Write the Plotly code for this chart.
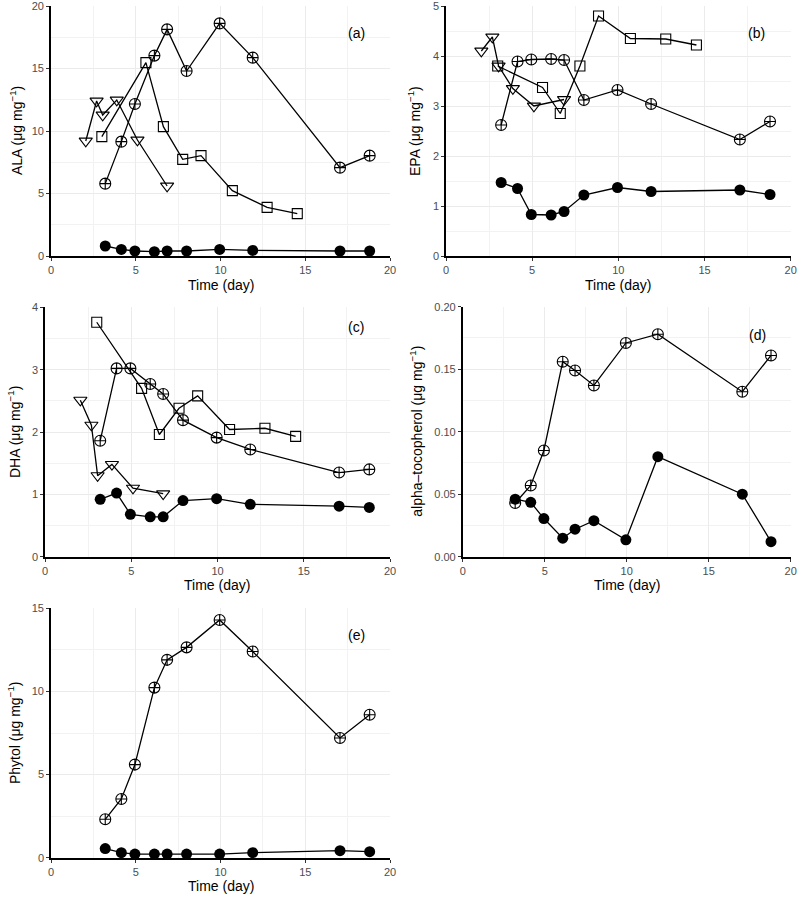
import plotly.graph_objects as go

# ---- data ----
t_circ = [3.2, 4.15, 4.95, 6.1, 6.85, 8.0, 9.95, 11.9, 17.05, 18.8]
t_sq = [3.0, 5.6, 6.63, 7.77, 8.85, 10.7, 12.75, 14.53]
t_tri = [2.05, 2.69, 3.05, 3.88, 5.1, 6.85]

ala_filled = [0.8, 0.53, 0.4, 0.35, 0.4, 0.4, 0.53, 0.45, 0.4, 0.4]
ala_cplus = [5.79, 9.15, 12.16, 16.03, 18.13, 14.8, 18.61, 15.87, 7.07, 8.03]
ala_sq = [9.55, 15.47, 10.35, 7.73, 8.03, 5.23, 3.89, 3.39]
ala_tri = [9.2, 12.4, 11.28, 12.48, 9.28, 5.6]

epa_filled = [1.47, 1.35, 0.83, 0.82, 0.89, 1.22, 1.37, 1.29, 1.32, 1.23]
epa_cplus = [2.62, 3.89, 3.93, 3.94, 3.92, 3.12, 3.32, 3.04, 2.33, 2.69]
epa_sq = [3.8, 3.37, 2.85, 3.8, 4.8, 4.35, 4.34, 4.22]
epa_tri = [4.1, 4.38, 3.8, 3.35, 3.0, 3.13]

dha_filled = [0.92, 1.02, 0.68, 0.64, 0.64, 0.9, 0.93, 0.84, 0.81, 0.79]
dha_cplus = [1.86, 3.02, 3.02, 2.77, 2.61, 2.19, 1.91, 1.72, 1.35, 1.4]
dha_sq = [3.76, 2.7, 1.96, 2.38, 2.58, 2.04, 2.06, 1.93]
dha_tri = [2.51, 2.11, 1.3, 1.48, 1.1, 1.01]

toco_filled = [0.046, 0.0435, 0.0305, 0.0148, 0.022, 0.0288, 0.0135, 0.08, 0.05, 0.012]
toco_cplus = [0.043, 0.057, 0.085, 0.156, 0.149, 0.137, 0.171, 0.178, 0.132, 0.161]

phy_filled = [0.55, 0.3, 0.22, 0.22, 0.22, 0.22, 0.22, 0.3, 0.42, 0.36]
phy_cplus = [2.31, 3.53, 5.6, 10.23, 11.9, 12.65, 14.3, 12.4, 7.2, 8.6]

panel_labels = ["(a)", "(b)", "(c)", "(d)", "(e)"]
y_titles = ["ALA", "EPA", "DHA", "alpha\u2013tocopherol", "Phytol"]
y_max = [20, 5, 4, 0.2, 15]
y_dtick = [5, 1, 1, 0.05, 5]

# ---- layout geometry (page pixels) ----
W, H = 800, 898
# (x0, x1, ytop, ybottom)
boxes = [
    (51, 390, 6, 256),
    (446, 790.7, 6, 256),
    (45, 390, 307.3, 556.7),
    (462.7, 790.7, 306.7, 556.7),
    (51, 390, 608.3, 857.7),
]
ytitle_x = [16, 414, 14, 416, 14]
xtitle_y = [285, 285, 585, 585, 886]

series = [
    [(t_circ, ala_filled, "f"), (t_circ, ala_cplus, "c"), (t_sq, ala_sq, "s"), (t_tri, ala_tri, "t")],
    [(t_circ, epa_filled, "f"), (t_circ, epa_cplus, "c"), (t_sq, epa_sq, "s"), (t_tri, epa_tri, "t")],
    [(t_circ, dha_filled, "f"), (t_circ, dha_cplus, "c"), (t_sq, dha_sq, "s"), (t_tri, dha_tri, "t")],
    [(t_circ, toco_filled, "f"), (t_circ, toco_cplus, "c")],
    [(t_circ, phy_filled, "f"), (t_circ, phy_cplus, "c")],
]

marker_style = {
    "f": dict(symbol="circle", size=11, color="black", line=dict(width=0)),
    "c": dict(symbol="circle-cross-open", size=11, color="black", line=dict(width=1.1, color="black")),
    "s": dict(symbol="square-open", size=10, color="black", line=dict(width=1.1, color="black")),
    "t": dict(symbol="triangle-down-open", size=11.5, color="black", line=dict(width=1.1, color="black")),
}


def px(v):
    return v / W


def py(v):
    return 1 - v / H


FONT = "Liberation Sans, Arial, Helvetica, sans-serif"
fig = go.Figure()
annotations = []
layout = {}

for i in range(5):
    x0, x1, yt, yb = boxes[i]
    ax = "" if i == 0 else str(i + 1)
    xa, ya = "x" + ax, "y" + ax
    for (xs, ys, kind) in series[i]:
        fig.add_trace(go.Scatter(
            x=xs, y=ys, mode="lines+markers", xaxis=xa, yaxis=ya,
            line=dict(color="black", width=1.3),
            marker=marker_style[kind], cliponaxis=False, showlegend=False,
            hoverinfo="skip",
        ))
    common = dict(
        showline=True, linecolor="black", linewidth=1.6,
        ticks="outside", ticklen=3, tickwidth=1, tickcolor="#333333",
        tickfont=dict(size=11, color="#4D4D4D", family=FONT),
        ticklabeloverflow="allow",
        showgrid=True, gridcolor="#EBEBEB", gridwidth=1,
        zeroline=False, fixedrange=True, automargin=False,
    )
    layout["xaxis" + ax] = dict(
        domain=[px(x0), px(x1)], anchor=ya, range=[0, 20],
        tick0=0, dtick=5,
        minor=dict(dtick=2.5, tick0=0, showgrid=True, gridcolor="#F2F2F2", gridwidth=0.6, ticks=""),
        **common,
    )
    layout["yaxis" + ax] = dict(
        domain=[py(yb), py(yt)], anchor=xa, range=[0, y_max[i]],
        tick0=0, dtick=y_dtick[i], tickformat=".2f" if i == 3 else "d",
        minor=dict(dtick=y_dtick[i] / 2, tick0=0, showgrid=True, gridcolor="#F2F2F2", gridwidth=0.6, ticks=""),
        **common,
    )
    annotations.append(dict(
        x=18.0, y=[17.8, 4.45, 3.69, 0.177, 13.4][i], xref=xa, yref=ya,
        text=panel_labels[i], showarrow=False,
        font=dict(size=14, color="black", family=FONT),
    ))
    annotations.append(dict(
        x=px(ytitle_x[i]), y=py((yt + yb) / 2), xref="paper", yref="paper",
        text=y_titles[i] + " (\u03bcg mg<sup>\u22121</sup>)", textangle=-90, showarrow=False,
        font=dict(size=14, color="black", family=FONT), xanchor="center", yanchor="middle",
    ))
    annotations.append(dict(
        x=px((x0 + x1) / 2), y=py(xtitle_y[i]), xref="paper", yref="paper",
        text="Time (day)", showarrow=False,
        font=dict(size=14, color="black", family=FONT), xanchor="center", yanchor="middle",
    ))

fig.update_layout(
    template="none",
    width=W, height=H,
    margin=dict(l=0, r=0, t=0, b=0, autoexpand=False),
    paper_bgcolor="white", plot_bgcolor="white",
    font=dict(family=FONT, color="black"),
    annotations=annotations,
    showlegend=False,
    **layout,
)

# remove the page's default body margin so the figure sits at the window's top-left
fig.write_html("out.html", config={"displayModeBar": False},
               post_script="document.body.style.margin='0px';")
